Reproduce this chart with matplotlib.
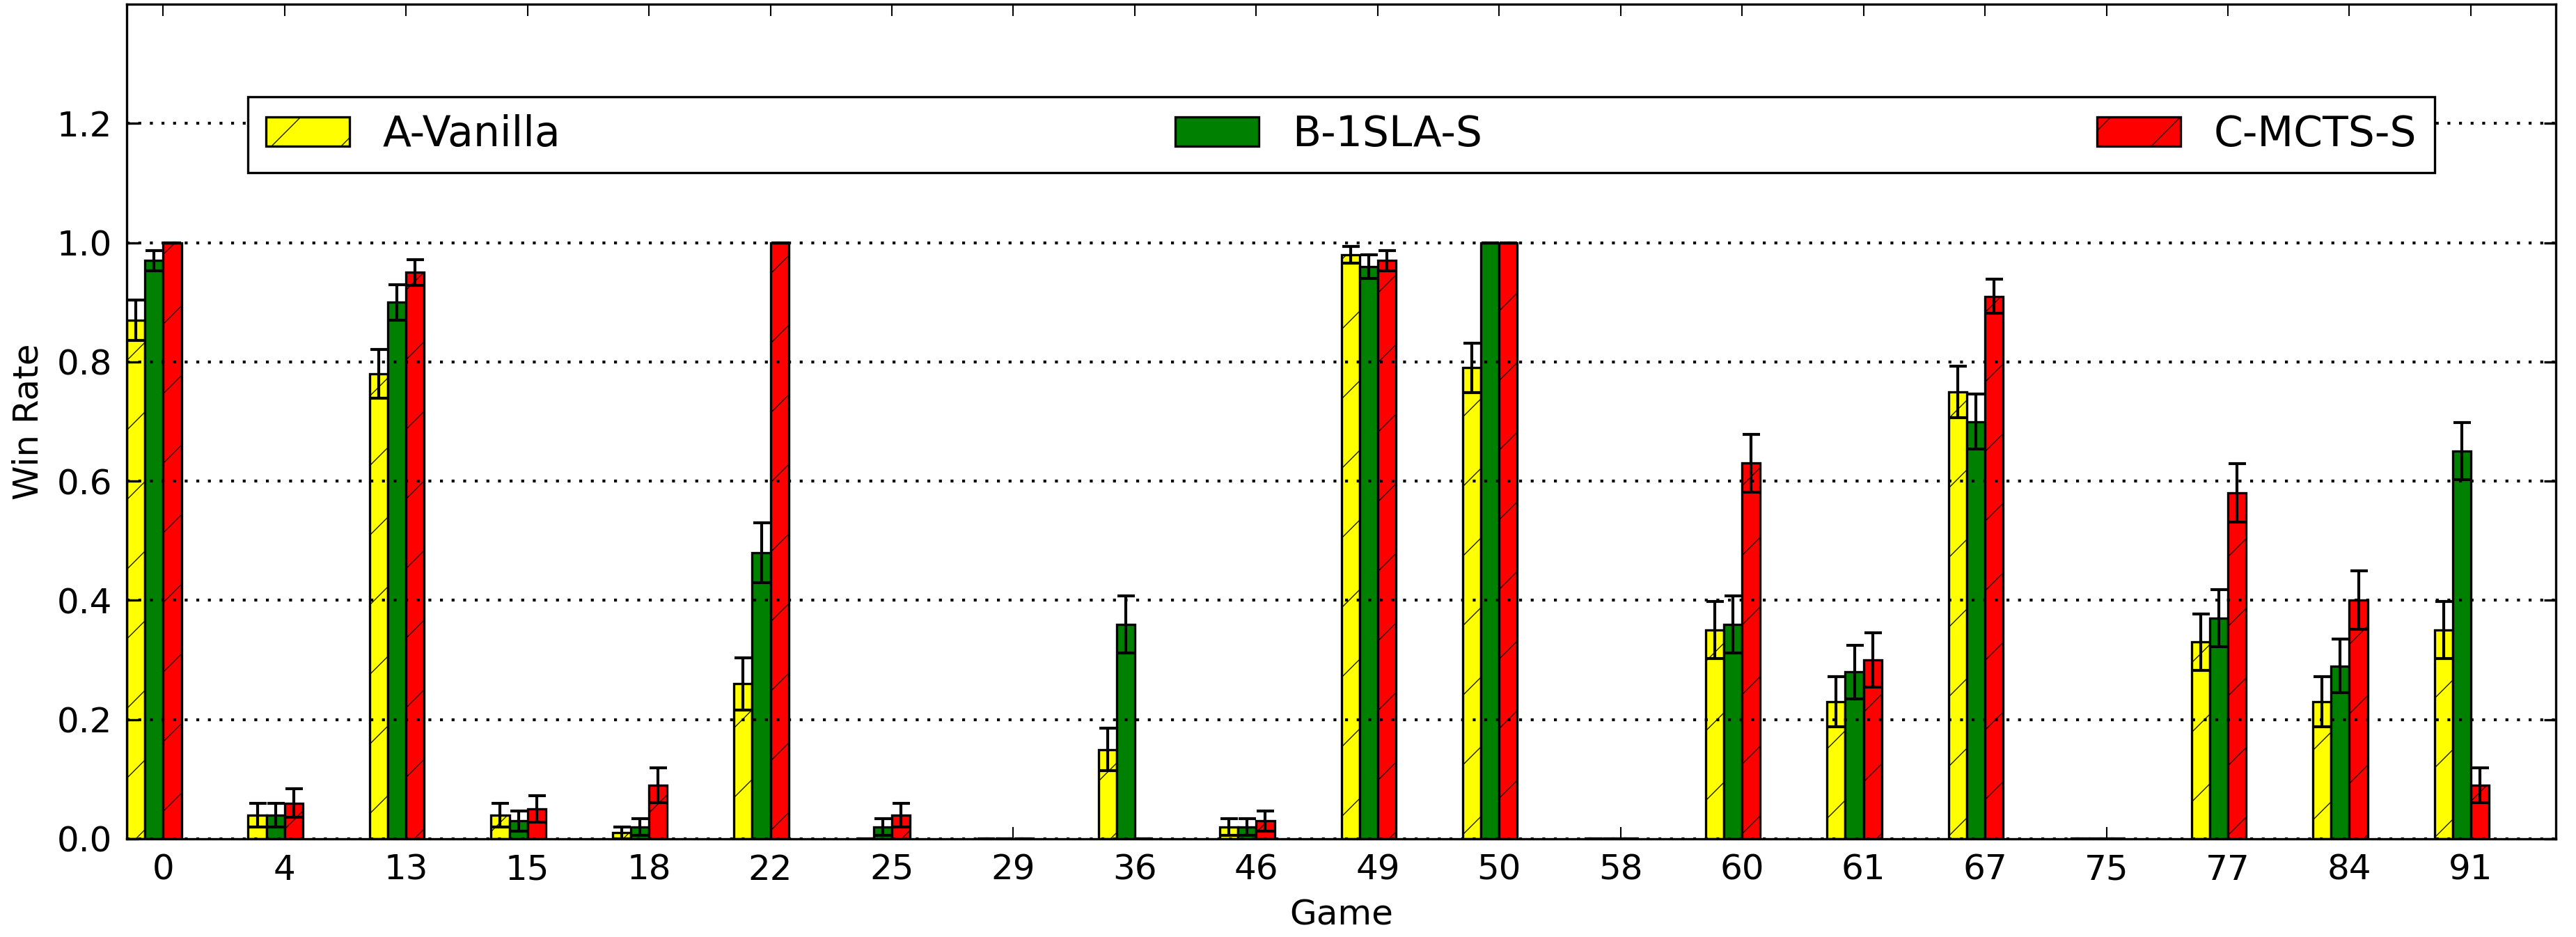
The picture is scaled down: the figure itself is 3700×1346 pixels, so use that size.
import numpy as np
import matplotlib
matplotlib.use("Agg")
import matplotlib.pyplot as plt

games = ["0", "4", "13", "15", "18", "22", "25", "29", "36", "46",
         "49", "50", "58", "60", "61", "67", "75", "77", "84", "91"]

series_names = ["A-Vanilla", "B-1SLA-S", "C-MCTS-S"]

a_vanilla = [0.87, 0.04, 0.78, 0.04, 0.01, 0.26, 0.00, 0.00, 0.15, 0.02,
             0.98, 0.79, 0.00, 0.35, 0.23, 0.75, 0.00, 0.33, 0.23, 0.35]
b_1sla_s = [0.97, 0.04, 0.90, 0.03, 0.02, 0.48, 0.02, 0.00, 0.36, 0.02,
            0.96, 1.00, 0.00, 0.36, 0.28, 0.70, 0.00, 0.37, 0.29, 0.65]
c_mcts_s = [1.00, 0.06, 0.95, 0.05, 0.09, 1.00, 0.04, 0.00, 0.00, 0.03,
            0.97, 1.00, 0.00, 0.63, 0.30, 0.91, 0.00, 0.58, 0.40, 0.09]

a_err = [0.034, 0.020, 0.041, 0.020, 0.010, 0.044, 0.000, 0.000, 0.036, 0.014,
         0.014, 0.041, 0.000, 0.048, 0.042, 0.043, 0.000, 0.047, 0.042, 0.048]
b_err = [0.017, 0.020, 0.030, 0.017, 0.014, 0.050, 0.014, 0.000, 0.048, 0.014,
         0.020, 0.000, 0.000, 0.048, 0.045, 0.046, 0.000, 0.048, 0.045, 0.048]
c_err = [0.000, 0.024, 0.022, 0.022, 0.029, 0.000, 0.020, 0.000, 0.000, 0.017,
         0.017, 0.000, 0.000, 0.048, 0.046, 0.029, 0.000, 0.049, 0.049, 0.029]

colors = ["#ffff00", "#008000", "#ff0000"]
hatches = ["/", "", "/"]

plt.rcParams.update({
    "font.family": ["DejaVu Sans"],
    "font.size": 12,
    "hatch.linewidth": 0.3,
    "hatch.color": "black",
    "lines.scale_dashes": False,
    "axes.linewidth": 0.8,
    "xtick.direction": "in",
    "ytick.direction": "in",
    "xtick.major.size": 4,
    "ytick.major.size": 4,
    "xtick.major.width": 0.5,
    "ytick.major.width": 0.8,
    "xtick.top": True,
    "ytick.right": True,
    "xtick.major.pad": 5,
    "ytick.major.pad": 5,
})

fig = plt.figure(figsize=(3700 / 300, 1346 / 300), dpi=300)
ax = fig.add_axes([182 / 3700, 1 - 1205 / 1346, (3671 - 182) / 3700, (1205 - 6) / 1346])

ind = np.arange(len(games))
width = 0.15
offsets = [-1.5 * width, -0.5 * width, 0.5 * width]
vals = [a_vanilla, b_1sla_s, c_mcts_s]
errs = [a_err, b_err, c_err]

for k in range(3):
    ax.bar(ind + offsets[k], vals[k], width, color=colors[k], edgecolor="black",
           linewidth=0.8, hatch=hatches[k], label=series_names[k],
           yerr=errs[k], ecolor="black",
           error_kw=dict(elinewidth=1.0, capsize=3, capthick=1.0))

ax.set_xlim(-0.3, len(games) - 0.3)
ax.set_ylim(0, 1.4)
ax.set_yticks([0.0, 0.2, 0.4, 0.6, 0.8, 1.0, 1.2])
ax.set_yticklabels(["0.0", "0.2", "0.4", "0.6", "0.8", "1.0", "1.2"])
ax.set_xticks(ind)
ax.set_xticklabels(games)
ax.yaxis.grid(True, linestyle=(0, (1, 3)), color="black", linewidth=1.0)
ax.set_axisbelow(False)
for gl in ax.get_ygridlines():
    gl.set_zorder(0.5)

ax.set_xlabel("Game")
ax.set_ylabel("Win Rate", labelpad=4)

leg = ax.legend(loc="upper left", bbox_to_anchor=(0.05, 0.0, 0.9, 0.889),
                mode="expand", ncol=3, fontsize=14.4, fancybox=False,
                frameon=True, borderpad=0.42, handlelength=2.0, handleheight=0.7,
                handletextpad=0.8, borderaxespad=0.0, framealpha=1.0)
leg.get_frame().set_edgecolor("black")
leg.get_frame().set_linewidth(0.8)

fig.savefig("out.png", dpi=300)
